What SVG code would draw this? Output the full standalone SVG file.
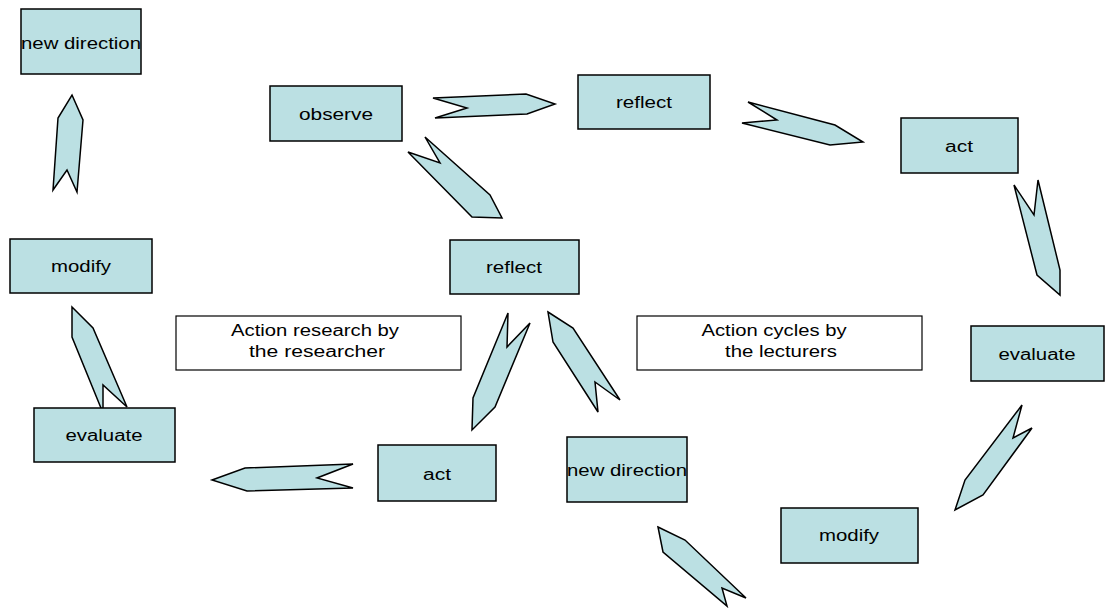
<svg xmlns="http://www.w3.org/2000/svg" width="1106" height="613" viewBox="0 0 1106 613">
  <style>
    .box { fill: #BBE0E3; stroke: #000; stroke-width: 1.5; }
    .note { fill: #FFFFFF; stroke: #000; stroke-width: 1.2; }
    .arrow { fill: #BBE0E3; stroke: #000; stroke-width: 1.5; stroke-linejoin: miter; }
    text { font-family: "Liberation Sans", Arial, sans-serif; font-size: 16px; fill: #000; text-anchor: middle; }
  </style>
  <rect width="1106" height="613" fill="#FFFFFF"/>

  <!-- block arrows -->
  <g id="connectors">
    <polygon class="arrow" points="433,98 526,94 555,104 527,114 435,118 467,108"/>
    <polygon class="arrow" points="748,102 835,125 863,142 830,145 742,123 777,120"/>
    <polygon class="arrow" points="1014,185 1034,215 1038,180 1060,270 1060,295 1037,275"/>
    <polygon class="arrow" points="425,137 490,195 502,218 472,217 408,152 440,163"/>
    <polygon class="arrow" points="508,313 507,347 530,323 495,407 472,430 473,398"/>
    <polygon class="arrow" points="548,312 573,328 620,400 595,382 598,412 553,342"/>
    <polygon class="arrow" points="212,480 245,468 353,464 317,478 353,488 247,491"/>
    <polygon class="arrow" points="658,527 685,540 746,598 722,588 727,606 663,552"/>
    <polygon class="arrow" points="1022,405 1013,438 1032,428 983,495 955,510 965,480"/>
    <polygon class="arrow" points="72,95 83,120 77,192 67,170 53,190 58,118"/>
    <polygon class="arrow" points="72,307 93,328 127,407 103,385 103,413 72,337"/>
  </g>

  <g id="new-direction-top">
    <rect class="box" x="21" y="9" width="120" height="65"/>
    <text x="81" y="49" textLength="120" lengthAdjust="spacingAndGlyphs">new direction</text>
  </g>
  <g id="observe">
    <rect class="box" x="270" y="86" width="132" height="55"/>
    <text x="336" y="120" textLength="74" lengthAdjust="spacingAndGlyphs">observe</text>
  </g>
  <g id="reflect-top">
    <rect class="box" x="578" y="75" width="132" height="54"/>
    <text x="644" y="108" textLength="56" lengthAdjust="spacingAndGlyphs">reflect</text>
  </g>
  <g id="act-top">
    <rect class="box" x="901" y="118" width="117" height="55"/>
    <text x="959" y="152" textLength="28" lengthAdjust="spacingAndGlyphs">act</text>
  </g>
  <g id="modify-left">
    <rect class="box" x="10" y="239" width="142" height="54"/>
    <text x="81" y="272" textLength="60" lengthAdjust="spacingAndGlyphs">modify</text>
  </g>
  <g id="reflect-center">
    <rect class="box" x="450" y="240" width="129" height="54"/>
    <text x="514" y="273" textLength="56" lengthAdjust="spacingAndGlyphs">reflect</text>
  </g>
  <g id="label-researcher">
    <rect class="note" x="176" y="316" width="285" height="54"/>
    <text x="315" y="336" textLength="168" lengthAdjust="spacingAndGlyphs">Action research by</text>
    <text x="317" y="357" textLength="136" lengthAdjust="spacingAndGlyphs">the researcher</text>
  </g>
  <g id="label-lecturers">
    <rect class="note" x="637" y="316" width="285" height="54"/>
    <text x="774" y="336" textLength="145" lengthAdjust="spacingAndGlyphs">Action cycles by</text>
    <text x="781" y="357" textLength="112" lengthAdjust="spacingAndGlyphs">the lecturers</text>
  </g>
  <g id="evaluate-right">
    <rect class="box" x="971" y="326" width="133" height="55"/>
    <text x="1037" y="360" textLength="77" lengthAdjust="spacingAndGlyphs">evaluate</text>
  </g>
  <g id="evaluate-left">
    <rect class="box" x="34" y="408" width="141" height="54"/>
    <text x="104" y="441" textLength="77" lengthAdjust="spacingAndGlyphs">evaluate</text>
  </g>
  <g id="act-center">
    <rect class="box" x="378" y="445" width="118" height="56"/>
    <text x="437" y="480" textLength="28" lengthAdjust="spacingAndGlyphs">act</text>
  </g>
  <g id="new-direction-center">
    <rect class="box" x="567" y="437" width="120" height="65"/>
    <text x="627" y="476" textLength="120" lengthAdjust="spacingAndGlyphs">new direction</text>
  </g>
  <g id="modify-bottom">
    <rect class="box" x="781" y="508" width="137" height="55"/>
    <text x="849" y="541" textLength="60" lengthAdjust="spacingAndGlyphs">modify</text>
  </g>
</svg>
